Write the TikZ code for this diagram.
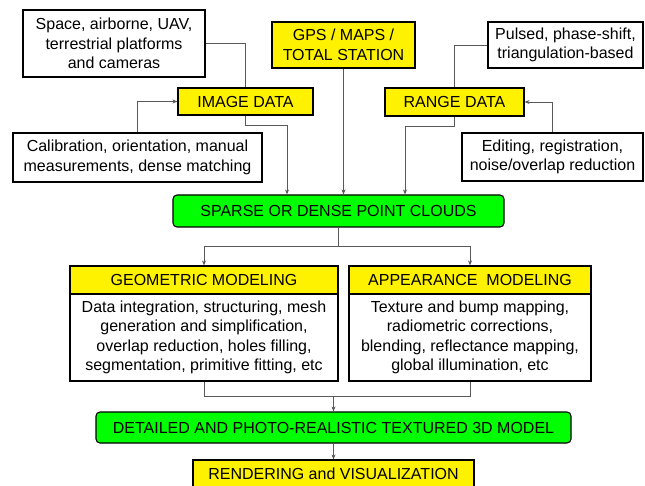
\documentclass[tikz,border=0pt]{standalone}
\usepackage{fontspec}
\setmainfont{Liberation Sans}
\usetikzlibrary{arrows.meta}

\tikzset{
  box/.style={draw=black, line width=1.1pt, inner sep=0pt, align=center,
    font=\fontsize{16}{19.5}\selectfont},
  whitebox/.style={box, fill=white},
  yellowbox/.style={box, fill=yellow},
  greenbox/.style={box, fill=green, rounded corners=4pt},
  link/.style={draw=black!65, line width=0.8pt},
  arr/.style={link, -{Stealth[length=5pt, width=4pt]}}
}

\begin{document}
\begin{tikzpicture}[x=1pt, y=-1pt]
			\useasboundingbox (0,0) rectangle (645,486);
			% Sources
			\node[whitebox, minimum width=182pt, minimum height=67pt] (space) at (114,43.5)
				{Space, airborne, UAV,\\terrestrial platforms\\and cameras};
			\node[yellowbox, minimum width=143pt, minimum height=46pt] (gps) at (343.5,45)
				{GPS / MAPS /\\TOTAL STATION};
			\node[whitebox, minimum width=155pt, minimum height=46pt] (pulsed) at (565.5,45)
				{Pulsed, phase-shift,\\triangulation-based};
			% Data
			\node[yellowbox, minimum width=135pt, minimum height=27pt] (image) at (245.5,101.5) {IMAGE DATA};
			\node[yellowbox, minimum width=139pt, minimum height=28pt] (range) at (454.5,102) {RANGE DATA};
			% Processing
			\node[whitebox, minimum width=249pt, minimum height=49pt] (calib) at (137.5,157.5)
				{Calibration, orientation, manual\\measurements, dense matching};
			\node[whitebox, minimum width=181pt, minimum height=48pt] (editing) at (552.5,157)
				{Editing, registration,\\noise/overlap reduction};
			% Point clouds
			\node[greenbox, minimum width=331pt, minimum height=32pt] (sparse) at (338.5,211)
				{SPARSE OR DENSE POINT CLOUDS};
			% Modeling
			\node[yellowbox, minimum width=268pt, minimum height=28pt] (geomhead) at (204,280)
				{GEOMETRIC MODELING};
			\node[whitebox, minimum width=268pt, minimum height=87pt] (geombody) at (204,337.5)
				{Data integration, structuring, mesh\\generation and simplification,\\overlap reduction, holes filling,\\segmentation, primitive fitting, etc};
			\node[yellowbox, minimum width=242pt, minimum height=28pt] (apphead) at (470,280)
				{APPEARANCE~~MODELING};
			\node[whitebox, minimum width=242pt, minimum height=87pt] (appbody) at (470,337.5)
				{Texture and bump mapping,\\radiometric corrections,\\blending, reflectance mapping,\\global illumination, etc};
			% Output
			\node[greenbox, minimum width=475pt, minimum height=31pt] (detailed) at (333.5,427.5)
				{DETAILED AND PHOTO-REALISTIC TEXTURED 3D MODEL};
			\node[yellowbox, minimum width=281pt, minimum height=28pt] (render) at (333.5,474)
				{RENDERING and VISUALIZATION};
			% Connectors to the data
			\draw[link] (space.east) -| (image.north);
			\draw[arr] (calib.north) |- (image.west);
			\draw[link] (pulsed.west) -| (range.north);
			\draw[arr] (editing.north) |- (range.east);
			% Connectors to the point clouds
			\draw[arr] (image.south) -- ++(0,10) -| ([xshift=-51.5pt]sparse.north);
			\draw[arr] (gps.south) -- (gps.south |- sparse.north);
			\draw[arr] (range.south) -- ++(0,10) -| ([xshift=66.5pt]sparse.north);
			% Split and merge
			\draw[link] (sparse.south) -- ++(0,19) coordinate (split);
			\draw[arr] (split) -| (geomhead.north);
			\draw[arr] (split) -| (apphead.north);
			\draw[link] (geombody.south) -- ++(0,15) coordinate (merge) -| (appbody.south);
			\draw[arr] (merge -| detailed.north) -- (detailed.north);
			\draw[arr] (detailed) -- (render);
		\end{tikzpicture}
\end{document}
